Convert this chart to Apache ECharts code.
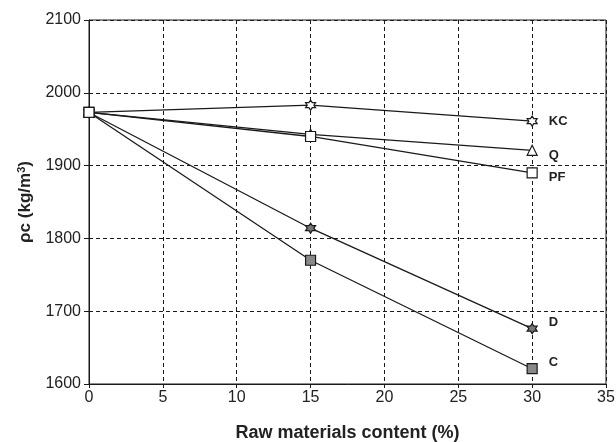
<!DOCTYPE html>
<html>
<head>
<meta charset="utf-8">
<script src="https://cdn.jsdelivr.net/npm/echarts@6/dist/echarts.min.js"></script>
<style>html,body{margin:0;padding:0;background:#fff}#c{width:616px;height:442px}</style>
</head>
<body>
<div id="c"></div>
<script>
const xValues = [0, 15, 30];
const kc = [1973, 1983, 1961];
const q  = [1973, 1943, 1921];
const pf = [1973, 1940, 1890];
const d  = [1973, 1814, 1676];
const c  = [1973, 1770, 1621];
const seriesNames = ['C', 'D', 'KC', 'Q', 'PF'];
const xTicks = [0, 5, 10, 15, 20, 25, 30, 35];
const yTicks = [1600, 1700, 1800, 1900, 2000, 2100];

const star = 'path://M0,-10 L2.9,-5 L8.66,-5 L5.77,0 L8.66,5 L2.9,5 L0,10 L-2.9,5 L-8.66,5 L-5.77,0 L-8.66,-5 L-2.9,-5 Z';
const styles = {
  KC: {symbol: star, size: 10, fill: '#fff', dy: 0},
  Q:  {symbol: 'triangle', size: 10, fill: '#fff', dy: 5},
  PF: {symbol: 'rect', size: 10, fill: '#fff', dy: 5},
  D:  {symbol: star, size: 10, fill: '#777', dy: -6},
  C:  {symbol: 'rect', size: 10, fill: '#888', dy: -6}
};
const values = {KC: kc, Q: q, PF: pf, D: d, C: c};
const font = 'Liberation Sans, Arial, sans-serif';

const series = seriesNames.map(name => {
  const st = styles[name];
  const vals = values[name];
  return {
    name: name,
    type: 'line',
    symbol: st.symbol,
    symbolSize: st.size,
    z: 3,
    lineStyle: {color: '#1a1a1a', width: 1.3},
    itemStyle: {color: st.fill, borderColor: '#1a1a1a', borderWidth: 1.2},
    data: vals.map((v, i) => {
      const item = {value: [xValues[i], v]};
      if (i === vals.length - 1) {
        item.label = {
          show: true, formatter: name, position: 'right', distance: 11,
          offset: [0, st.dy], color: '#222', fontWeight: 'bold',
          fontSize: 13, fontFamily: font
        };
      }
      return item;
    })
  };
});

const chart = echarts.init(document.getElementById('c'), null, {renderer: 'canvas'});
chart.setOption({
  backgroundColor: '#fff',
  animation: false,
  grid: {left: 89, right: 10, top: 20, bottom: 58, show: true, borderColor: '#1a1a1a', borderWidth: 1,
         containLabel: false, outerBoundsMode: 'none'},
  xAxis: {
    type: 'value', min: xTicks[0], max: xTicks[xTicks.length - 1], interval: 5,
    name: 'Raw materials content (%)', nameLocation: 'middle', nameGap: 40,
    nameTextStyle: {color: '#222', fontWeight: 'bold', fontSize: 18, fontFamily: font},
    axisLine: {show: true, lineStyle: {color: '#1a1a1a', width: 1}},
    axisTick: {show: true, length: 4, lineStyle: {color: '#1a1a1a'}},
    axisLabel: {color: '#222', fontSize: 16, fontFamily: font, margin: 6},
    splitLine: {show: true, lineStyle: {color: '#1a1a1a', type: [4, 3], width: 1}}
  },
  yAxis: {
    type: 'value', min: yTicks[0], max: yTicks[yTicks.length - 1], interval: 100,
    name: '{n|ρc (kg/m}{s|3}{n|)}', nameLocation: 'middle', nameGap: 54,
    nameTextStyle: {
      rich: {
        n: {color: '#222', fontWeight: 'bold', fontSize: 17, fontFamily: font},
        s: {color: '#222', fontWeight: 'bold', fontSize: 11, fontFamily: font, verticalAlign: 'top', padding: [0, 0, 8, 0]}
      }
    },
    axisLine: {show: true, lineStyle: {color: '#1a1a1a', width: 1}},
    axisTick: {show: true, length: 5, lineStyle: {color: '#1a1a1a'}},
    axisLabel: {color: '#222', fontSize: 16, fontFamily: font, margin: 8, formatter: v => String(v)},
    splitLine: {show: true, lineStyle: {color: '#1a1a1a', type: [4, 3], width: 1}}
  },
  series: series
});
</script>
</body>
</html>
